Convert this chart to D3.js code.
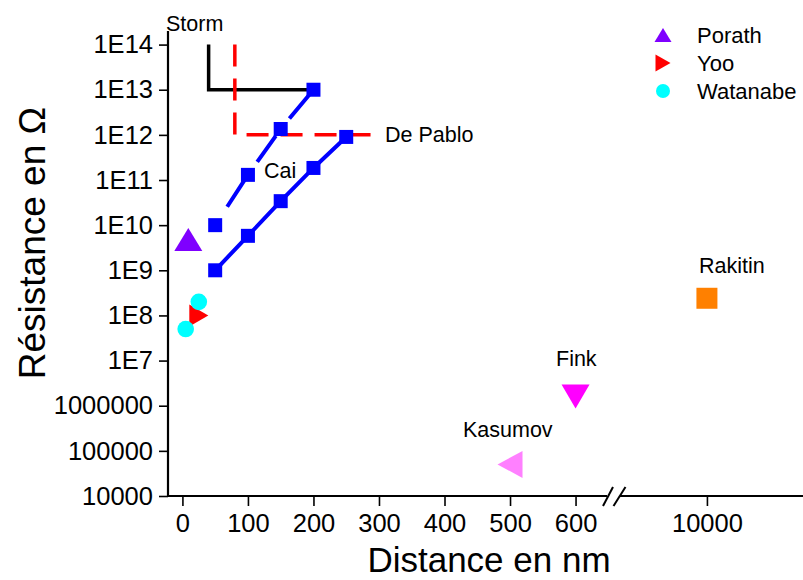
<!DOCTYPE html>
<html>
<head>
<meta charset="utf-8">
<script src="https://cdn.jsdelivr.net/npm/d3@7"></script>
<style>
  body { margin: 0; background: #fff; }
  svg { display: block; }
  text { font-family: Arial, "Liberation Sans", sans-serif; fill: #000; }
</style>
</head>
<body>
<svg id="chart" width="803" height="580"></svg>
<script>
// ---------- data ----------
const yTickValues = [1e4, 1e5, 1e6, 1e7, 1e8, 1e9, 1e10, 1e11, 1e12, 1e13, 1e14];
const yTickLabels = ["10000", "100000", "1000000", "1E7", "1E8", "1E9", "1E10", "1E11", "1E12", "1E13", "1E14"];
const xTickValues = [0, 100, 200, 300, 400, 500, 600];
const xMinorValues = [50, 150, 250, 350, 450, 550];
const xTickValues2 = [10000];

const stormX = [40, 40, 200];
const stormY = [1e14, 1e13, 1e13];
const dePabloX = [80, 80, 290];
const dePabloY = [1e14, 1e12, 1e12];
const caiUpperX = [50, 100, 150, 200];
const caiUpperY = [1e10, 1.3e11, 1.35e12, 1e13];
const caiLowerX = [50, 100, 150, 200, 250];
const caiLowerY = [1e9, 5.8e9, 3.4e10, 1.85e11, 9e11];
const porath = [[9, 4.8e9]];
const yoo = [[25, 1e8]];
const watanabe = [[25, 2e8], [5, 5e7]];
const kasumov = [[500, 5e4]];
const fink = [[600, 1.6e6]];
const rakitin = [[10000, 2.4e8]];

const legendNames = ["Porath", "Yoo", "Watanabe"];

// ---------- scales ----------
const svg = d3.select("#chart");
const x1 = d3.scaleLinear().domain([-22, 648]).range([168, 607]);
const x2 = d3.scaleLinear().domain([9867, 10147]).range([620, 803]);
const xPos = v => v < 5000 ? x1(v) : x2(v);
const y = d3.scaleLog().domain([1e4, 2e14]).range([496, 31]);

const font = "Arial, 'Liberation Sans', sans-serif";

// ---------- axes ----------
const yMinor = [];
for (let e = 4; e <= 14; e++) for (let m = 2; m <= 9; m++) {
  const v = m * Math.pow(10, e);
  if (v <= 2e14) yMinor.push(v);
}

const yAxisMajor = d3.axisLeft(y).tickValues(yTickValues)
  .tickFormat((d, i) => yTickLabels[i]).tickSize(9).tickSizeOuter(0).tickPadding(6);
const yAxisMinor = d3.axisLeft(y).tickValues(yMinor).tickFormat("").tickSize(5).tickSizeOuter(0);

const gy = svg.append("g").attr("transform", "translate(168,0)");
gy.call(yAxisMinor);
gy.call(yAxisMajor);
gy.selectAll(".domain").remove();
gy.selectAll("line").attr("stroke", "#000").attr("stroke-width", 1.6);
gy.selectAll("text").style("font-size", "25.5px").style("font-family", font).attr("fill", "#000");
svg.append("line").attr("x1", 168).attr("x2", 168).attr("y1", y(2e14)).attr("y2", 497)
  .attr("stroke", "#000").attr("stroke-width", 2.2);

const gx = svg.append("g").attr("transform", "translate(0,496)");
gx.call(d3.axisBottom(x1).tickValues(xMinorValues).tickFormat("").tickSize(5).tickSizeOuter(0));
gx.call(d3.axisBottom(x1).tickValues(xTickValues).tickFormat(d3.format("d")).tickSize(10).tickSizeOuter(0).tickPadding(8));
const gx2 = svg.append("g").attr("transform", "translate(0,496)");
gx2.call(d3.axisBottom(x2).tickValues(xTickValues2).tickFormat(d3.format("d")).tickSize(10).tickSizeOuter(0).tickPadding(8));
[gx, gx2].forEach(g => {
  g.selectAll(".domain").remove();
  g.selectAll("line").attr("stroke", "#000").attr("stroke-width", 1.6);
  g.selectAll("text").style("font-size", "25.5px").style("font-family", font).attr("fill", "#000");
});
svg.append("line").attr("x1", 167).attr("x2", 607).attr("y1", 496).attr("y2", 496)
  .attr("stroke", "#000").attr("stroke-width", 2.2);
svg.append("line").attr("x1", 620).attr("x2", 803).attr("y1", 496).attr("y2", 496)
  .attr("stroke", "#000").attr("stroke-width", 2.2);
// break marks
[[603, 613], [613.5, 625.5]].forEach(([a, b]) => {
  svg.append("line").attr("x1", a).attr("y1", 506).attr("x2", b).attr("y2", 487)
    .attr("stroke", "#000").attr("stroke-width", 2);
});

// axis titles
svg.append("text").attr("x", 489).attr("y", 572).attr("text-anchor", "middle")
  .style("font-size", "35px").text("Distance en nm");
svg.append("text").attr("transform", "translate(45,243) rotate(-90)").attr("text-anchor", "middle")
  .style("font-size", "37px").text("Résistance en Ω");

// ---------- lines ----------
const line = d3.line().x(d => xPos(d[0])).y(d => y(d[1]));
const zip = (a, b) => a.map((v, i) => [v, b[i]]);

svg.append("path").datum(zip(stormX, stormY)).attr("d", line)
  .attr("fill", "none").attr("stroke", "#000").attr("stroke-width", 3.5);
svg.append("path").datum(zip(dePabloX, dePabloY)).attr("d", line)
  .attr("fill", "none").attr("stroke", "#ff0000").attr("stroke-width", 3.5)
  .attr("stroke-dasharray", "22,12");
svg.append("path").datum(zip(caiUpperX, caiUpperY)).attr("d", line)
  .attr("fill", "none").attr("stroke", "#0000ff").attr("stroke-width", 4)
  .attr("stroke-dasharray", "32,22").attr("stroke-dashoffset", -22);
svg.append("path").datum(zip(caiLowerX, caiLowerY)).attr("d", line)
  .attr("fill", "none").attr("stroke", "#0000ff").attr("stroke-width", 4);

// ---------- markers ----------
function tri(dir, w, h) {
  const hw = w / 2, hh = h / 2;
  if (dir === "up") return `M0,${-hh}L${hw},${hh}L${-hw},${hh}Z`;
  if (dir === "down") return `M0,${hh}L${hw},${-hh}L${-hw},${-hh}Z`;
  if (dir === "right") return `M${hw},0L${-hw},${hh}L${-hw},${-hh}Z`;
  return `M${-hw},0L${hw},${hh}L${hw},${-hh}Z`;
}
function sq(s) { return `M${-s/2},${-s/2}h${s}v${s}h${-s}Z`; }

const caiAll = zip(caiUpperX, caiUpperY).concat(zip(caiLowerX, caiLowerY));
svg.selectAll(".cai").data(caiAll).enter().append("path")
  .attr("transform", d => `translate(${xPos(d[0])},${y(d[1])})`)
  .attr("d", sq(14)).attr("fill", "#0000ff");

svg.selectAll(".porath").data(porath).enter().append("path")
  .attr("transform", d => `translate(${xPos(d[0])},${y(d[1])})`)
  .attr("d", tri("up", 28, 23)).attr("fill", "#7f00ff");
svg.selectAll(".yoo").data(yoo).enter().append("path")
  .attr("transform", d => `translate(${xPos(d[0])},${y(d[1])})`)
  .attr("d", tri("right", 19, 22)).attr("fill", "#ff0000");
svg.selectAll(".wat").data(watanabe).enter().append("circle")
  .attr("cx", d => xPos(d[0])).attr("cy", d => y(d[1])).attr("r", 8.3).attr("fill", "#00ffff");
svg.selectAll(".kas").data(kasumov).enter().append("path")
  .attr("transform", d => `translate(${xPos(d[0])},${y(d[1])})`)
  .attr("d", tri("left", 25, 27)).attr("fill", "#ff80ff");
svg.selectAll(".fink").data(fink).enter().append("path")
  .attr("transform", d => `translate(${xPos(d[0])},${y(d[1])})`)
  .attr("d", tri("down", 28, 24)).attr("fill", "#ff00ff");
svg.selectAll(".rak").data(rakitin).enter().append("path")
  .attr("transform", d => `translate(${xPos(d[0])},${y(d[1])})`)
  .attr("d", sq(21)).attr("fill", "#ff8000");

// ---------- labels ----------
const labels = [
  ["Storm", 166, 31],
  ["De Pablo", 385, 142],
  ["Cai", 264, 178],
  ["Kasumov", 463, 437],
  ["Fink", 556, 366],
  ["Rakitin", 699, 273]
];
labels.forEach(([t, lx, ly]) => {
  svg.append("text").attr("x", lx).attr("y", ly).style("font-size", "21.5px").text(t);
});

// ---------- legend ----------
const legendY = [35, 63, 91];
const legendPaths = [
  g => g.append("path").attr("d", tri("up", 17, 14)).attr("fill", "#7f00ff"),
  g => g.append("path").attr("d", tri("right", 15, 17)).attr("fill", "#ff0000"),
  g => g.append("circle").attr("r", 7).attr("fill", "#00ffff")
];
legendNames.forEach((name, i) => {
  const g = svg.append("g").attr("transform", `translate(663,${legendY[i]})`);
  legendPaths[i](g);
  svg.append("text").attr("x", 697).attr("y", legendY[i] + 8).style("font-size", "22px").text(name);
});
</script>
</body>
</html>
